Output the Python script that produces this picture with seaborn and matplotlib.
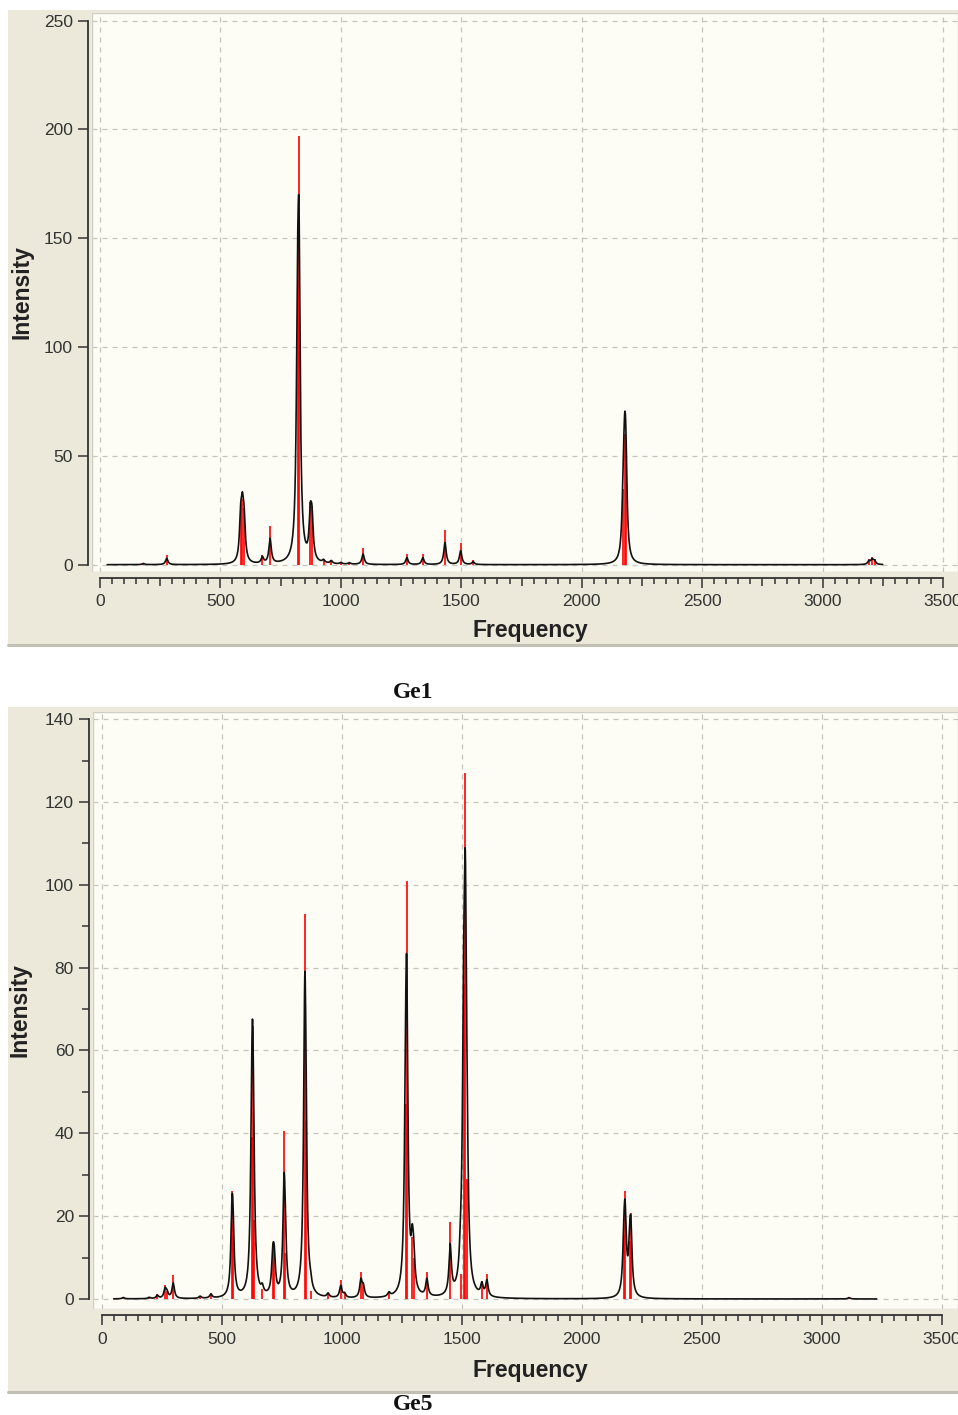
import numpy as np
import pandas as pd
import matplotlib
matplotlib.use("Agg")
import matplotlib.pyplot as plt
import seaborn as sns
from matplotlib.patches import Rectangle
from matplotlib.lines import Line2D
from matplotlib.ticker import FixedLocator, FuncFormatter

W, H = 958, 1415

# stick spectra (frequency in cm-1, intensity)
ge1_freq = [180, 277, 584, 591, 598, 674, 706, 820, 826, 873, 880, 928, 960, 1000, 1035,
            1092, 1274, 1340, 1432, 1497, 1549, 2172, 2178, 2183, 3192, 3205, 3215]
ge1_int = [0.8, 4.5, 28, 30, 26, 4.5, 18, 131, 197, 29, 27, 2, 2, 1, 1,
           7.5, 5, 5, 16, 10, 2, 35, 60, 56, 2.5, 3.5, 2.5]

ge5_freq = [90, 198, 232, 264, 272, 298, 410, 455, 543, 547, 625, 629, 633, 669, 713, 719,
            760, 765, 846, 850, 870, 943, 996, 1012, 1080, 1090, 1197, 1266, 1271, 1294,
            1300, 1355, 1452, 1495, 1508, 1515, 1522, 1584, 1605, 2176, 2181, 2200, 2205, 3114]
ge5_int = [0.5, 0.5, 1.2, 3.4, 2.0, 5.8, 0.8, 1.5, 26, 18, 39, 66, 19, 2.5, 13, 12,
           40.5, 11, 93, 43, 2, 1.5, 4.5, 1.5, 6.5, 4, 1.5, 47, 101, 15,
           10, 6.5, 18.7, 6, 76, 127, 29, 4.3, 6, 15.5, 26, 14, 20.7, 0.5]

x_ticks = [0, 500, 1000, 1500, 2000, 2500, 3000, 3500]
ge1_y_ticks = [0, 50, 100, 150, 200, 250]
ge5_y_ticks = [0, 20, 40, 60, 80, 100, 120, 140]

BEIGE = "#ECE9DA"
CREAM = "#FEFDF5"
GRIDC = "#C4C4BE"
TXT = "#333333"


def broaden(grid, freqs, ints, hwhm=6.0, scale=0.63):
    # lorentzian envelope of the sticks, as the program draws it
    f = np.asarray(freqs, dtype=float)[:, None]
    i = np.asarray(ints, dtype=float)[:, None]
    return scale * (i / (1.0 + ((grid[None, :] - f) / hwhm) ** 2)).sum(axis=0)


def fig_box(x0, y0, x1, y1):
    return [x0 / W, 1 - y1 / H, (x1 - x0) / W, (y1 - y0) / H]


def draw_panel(fig, panel, axbox, xlim, ylim, freqs, ints, yticks, yminor, crange, name, name_y):
    px0, py0, px1, py1 = panel
    fig.add_artist(Rectangle((px0 / W, 1 - py1 / H), (px1 - px0) / W, (py1 - py0) / H,
                             transform=fig.transFigure, facecolor=BEIGE, edgecolor="none", zorder=0))
    fig.add_artist(Line2D([px0 / W, px1 / W], [1 - py1 / H] * 2, transform=fig.transFigure,
                          color="#C2C0B4", lw=2.2, zorder=1))

    ax = fig.add_axes(fig_box(*axbox))
    ax.set_facecolor(CREAM)
    ax.set_xlim(*xlim)
    ax.set_ylim(*ylim)

    for v in x_ticks:
        ax.axvline(v, color=GRIDC, lw=0.9, ls=(0, (4, 4)), zorder=1)
    for v in yticks:
        ax.axhline(v, color=GRIDC, lw=0.9, ls=(0, (4, 4)), zorder=1)

    grid = np.arange(crange[0], crange[1], 1.0)
    df = pd.DataFrame({"Frequency": grid, "Intensity": broaden(grid, freqs, ints)})
    ax.vlines(freqs, 0, ints, colors="#FF0000", lw=1.2, zorder=2)
    sns.lineplot(data=df, x="Frequency", y="Intensity", ax=ax, color="#111111",
                 lw=1.2, estimator=None, zorder=3)

    ax.add_patch(Rectangle((0, 0), 1, 1, transform=ax.transAxes, fill=False,
                           edgecolor="#CFCFC6", lw=1.0, zorder=4))
    for s in ["top", "right"]:
        ax.spines[s].set_visible(False)
    ax.spines["left"].set_position(("outward", 3.0))
    ax.spines["left"].set_bounds(yticks[0], yticks[-1])
    ax.spines["bottom"].set_position(("outward", 4.5))
    ax.spines["bottom"].set_bounds(0, 3500)
    for s in ["left", "bottom"]:
        ax.spines[s].set_color(TXT)
        ax.spines[s].set_linewidth(1.3)

    ax.xaxis.set_major_locator(FixedLocator(np.arange(0, 3501, 250)))
    ax.xaxis.set_minor_locator(FixedLocator(np.arange(0, 3501, 50)))
    ax.xaxis.set_major_formatter(FuncFormatter(lambda v, p: f"{v:.0f}" if v % 500 == 0 else ""))
    ax.yaxis.set_major_locator(FixedLocator(yticks))
    if yminor:
        ax.yaxis.set_minor_locator(FixedLocator(np.arange(yticks[0], yticks[-1] + 1, yminor)))
    ax.tick_params(axis="both", which="both", direction="out", color=TXT, width=1.1,
                   labelcolor=TXT, labelsize=12.5, bottom=True, left=True, top=False, right=False)
    ax.tick_params(axis="x", which="major", length=7.2, pad=4.5)
    ax.tick_params(axis="x", which="minor", length=4.2)
    ax.tick_params(axis="y", which="major", length=7.2, pad=3.5)
    ax.tick_params(axis="y", which="minor", length=5.0)
    for t, loc in zip(ax.xaxis.get_major_ticks(), ax.xaxis.get_majorticklocs()):
        if loc % 500 != 0:
            t.tick1line.set_markersize(5.6)

    ax.set_xlabel("Frequency", fontsize=16.5, fontweight="bold", color="#222222")
    ax.set_ylabel("Intensity", fontsize=16.5, fontweight="bold", color="#222222")
    ax0, ay0, ax1, ay1 = axbox
    ax.xaxis.label.set_va("center")
    ax.yaxis.label.set_va("center")
    ax.xaxis.set_label_coords((530 - ax0) / (ax1 - ax0), (ay1 - name_y[0]) / (ay1 - ay0))
    ax.yaxis.set_label_coords((name_y[1] - ax0) / (ax1 - ax0), 0.5)

    fig.text(413 / W, 1 - name_y[2] / H, name, ha="center", va="center",
             family=["Liberation Serif", "DejaVu Serif"], fontweight="bold", fontsize=17, color="#111111")
    return ax


sns.set_theme(style="white")
plt.rcParams["font.family"] = ["Liberation Sans", "DejaVu Sans"]

fig = plt.figure(figsize=(W / 100, H / 100), dpi=100, facecolor="white")

# Ge1: 0 -> px 100, 3500 -> px 943.2 ; 0 -> py 564.7, 250 -> py 20.7
draw_panel(fig, (8, 10, 958, 645), (92, 12.7, 958, 572),
           (-33.2, 3561.6), (-3.35, 253.6), ge1_freq, ge1_int, ge1_y_ticks, None,
           (30, 3250), "Ge1", (630, 22, 693))

# Ge5: 0 -> px 101.7, 3500 -> px 941.7 ; 0 -> py 1299, 140 -> py 720
draw_panel(fig, (8, 707, 958, 1392), (93, 711.7, 958, 1309),
           (-36.25, 3567.9), (-2.42, 141.8), ge5_freq, ge5_int, ge5_y_ticks, 10,
           (50, 3230), "Ge5", (1370, 20, 1404))

fig.savefig("out.png", dpi=100, facecolor="white")
